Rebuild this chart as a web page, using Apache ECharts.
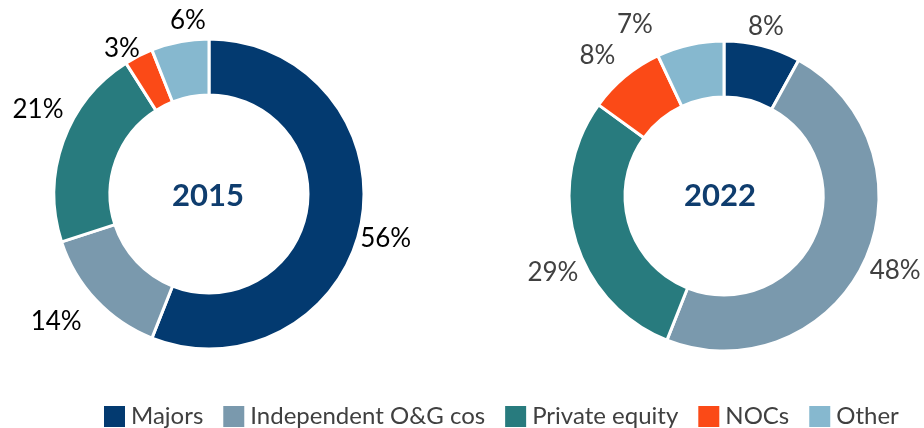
<!DOCTYPE html>
<html>
<head>
<meta charset="utf-8">
<script src="https://cdn.jsdelivr.net/npm/echarts@6/dist/echarts.min.js"></script>
<style>
  html, body { margin: 0; padding: 0; background: #fff; }
  #chart { width: 924px; height: 428px; }
</style>
</head>
<body>
<div id="chart"></div>
<script>
// owner groups, clockwise from 12 o'clock
const categories = ["Majors", "Independent O&G cos", "Private equity", "NOCs", "Other"];
const share2015 = [56, 14, 21, 3, 6];
const share2022 = [8, 48, 29, 8, 7];
const years = ["2015", "2022"];

const colors = ["#033a70", "#7a99ad", "#287b7e", "#fb4a17", "#86b8cf"];
const font = "Lato, 'Open Sans', sans-serif";

// hand placed data labels in the original, nudged from the default outside spot
const nudge2015 = [[-12, 14], [-5, 17], [11, -30], [9, -2], [32, -15]];
const nudge2022 = [[-21, -13], [-5, 6], [14, 32], [-1, -16], [-31, -14]];

const chart = echarts.init(document.getElementById("chart"));

function donut(values, nudges, center, labelColor) {
  return {
    type: "pie",
    center: center,
    radius: [99, 155],
    startAngle: 90,
    clockwise: true,
    avoidLabelOverlap: false,
    silent: true,
    itemStyle: { borderColor: "#fff", borderWidth: 3 },
    label: {
      show: true,
      position: "outside",
      formatter: "{c}%",
      color: labelColor,
      fontFamily: font,
      fontSize: 26
    },
    labelLine: { show: false, length: 6, length2: 0 },
    data: categories.map((name, i) => ({
      name: name,
      value: values[i],
      label: { offset: nudges[i] }
    }))
  };
}

function centerTitle(text, x, y) {
  return {
    text: text, left: x, top: y, textAlign: "center", textVerticalAlign: "middle",
    textStyle: { color: "#0f3d6e", fontFamily: font, fontWeight: "bold", fontSize: 31 }
  };
}

const option = {
  color: colors,
  animation: false,
  title: [centerTitle(years[0], 203, 191), centerTitle(years[1], 715, 191)],
  legend: {
    data: categories,
    left: 97,
    top: 399,
    icon: "rect",
    itemWidth: 23,
    itemHeight: 23,
    itemGap: 18,
    textStyle: { color: "#404040", fontFamily: font, fontSize: 24, lineHeight: 23 }
  },
  series: [
    donut(share2015, nudge2015, [209, 194], "#000"),
    donut(share2022, nudge2022, [724, 196], "#404040")
  ]
};

chart.setOption(option);
</script>
</body>
</html>
